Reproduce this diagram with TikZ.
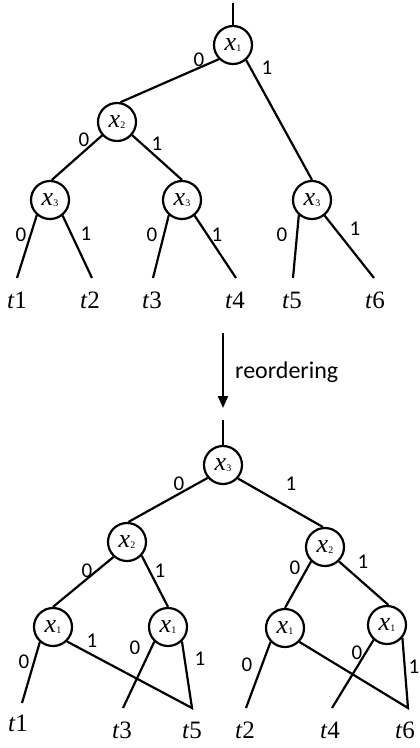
\documentclass[tikz,border=0pt]{standalone}
\usepackage{fontspec}
\setmainfont{Liberation Serif}
\newfontfamily\lblfont{Carlito}
\usetikzlibrary{arrows.meta}
\newcommand{\xv}[1]{\textit{x}\raisebox{-1.5pt}{\fontsize{10}{10}\selectfont #1}}
\newcommand{\tl}[1]{\textit{t}#1}
\begin{document}
\begin{tikzpicture}[x=1pt,y=-1pt,
  vnode/.style={circle,draw,line width=2.2pt,minimum size=38pt,inner sep=0pt,font=\fontsize{26}{26}\selectfont},
  edge/.style={line width=2.2pt},
  bit/.style={font=\lblfont\fontsize{21}{21}\selectfont,inner sep=0pt},
  leaf/.style={font=\fontsize{25}{25}\selectfont,inner sep=0pt}]
\useasboundingbox (0,0) rectangle (420,748);
% ---------- top tree ----------
\coordinate (r1) at (233,3);
\node[vnode] (x1) at (233,45) {\xv{1}};
\node[vnode] (x2) at (117,122) {\xv{2}};
\node[vnode] (a3) at (50,200) {\xv{3}};
\node[vnode] (b3) at (182,200) {\xv{3}};
\node[vnode] (c3) at (312,200) {\xv{3}};
\coordinate (e1) at (17,278);
\coordinate (e2) at (92,278);
\coordinate (e3) at (153,278);
\coordinate (e4) at (236,278);
\coordinate (e5) at (293,278);
\coordinate (e6) at (374,278);
\draw[edge] (r1) -- (x1.north);
\draw[edge] (x1.225) -- (x2.80);
\draw[edge] (x1.311) -- (c3.90);
\draw[edge] (x2.222) -- (a3.85);
\draw[edge] (x2.319) -- (b3.90);
\draw[edge] (a3.229) -- (e1);
\draw[edge] (a3.309) -- (e2);
\draw[edge] (b3.229) -- (e3);
\draw[edge] (b3.309) -- (e4);
\draw[edge] (c3.229) -- (e5);
\draw[edge] (c3.309) -- (e6);
\node[bit] (l1) at (199,60) {0};
\node[bit] (l2) at (267,68) {1};
\node[bit] (l3) at (84,140) {0};
\node[bit] (l4) at (157,144) {1};
\node[bit] (l5) at (21,235) {0};
\node[bit] (l6) at (86,234) {1};
\node[bit] (l7) at (152,235) {0};
\node[bit] (l8) at (217,235) {1};
\node[bit] (l9) at (282,235) {0};
\node[bit] (l10) at (355,229) {1};
\node[leaf] (t1a) at (17,300) {\tl{1}};
\node[leaf] (t2a) at (90,300) {\tl{2}};
\node[leaf] (t3a) at (152,300) {\tl{3}};
\node[leaf] (t4a) at (235,300) {\tl{4}};
\node[leaf] (t5a) at (292,300) {\tl{5}};
\node[leaf] (t6a) at (375,300) {\tl{6}};
% ---------- arrow ----------
\coordinate (as) at (223,333);
\coordinate (ae) at (223,408);
\draw[edge,-{Triangle[width=10pt,length=12pt]}] (as) -- (ae);
\node[anchor=west,inner sep=0pt,font=\lblfont\fontsize{24}{24}\selectfont] (re) at (235,372) {reordering};
% ---------- bottom tree ----------
\coordinate (r2) at (223,420);
\node[vnode] (y3) at (223,465) {\xv{3}};
\node[vnode] (p2) at (127,542) {\xv{2}};
\node[vnode] (q2) at (325,547) {\xv{2}};
\node[vnode] (u1) at (53,627) {\xv{1}};
\node[vnode] (v1) at (168,627) {\xv{1}};
\node[vnode] (w1) at (285,628) {\xv{1}};
\node[vnode] (z1) at (387,625) {\xv{1}};
\coordinate (f1) at (22,703);
\coordinate (f3) at (123,708);
\coordinate (f5) at (192,708);
\coordinate (f2) at (246,708);
\coordinate (f4) at (332,708);
\coordinate (f6) at (408,708);
\draw[edge] (r2) -- (y3.north);
\draw[edge] (y3.220) -- (p2.86);
\draw[edge] (y3.318) -- (q2.96);
\draw[edge] (p2.228) -- (u1.90);
\draw[edge] (p2.317) -- (v1.90);
\draw[edge] (q2.226) -- (w1.90);
\draw[edge] (q2.314) -- (z1.86);
\draw[edge] (u1.229) -- (f1);
\draw[edge] (v1.227) -- (f3);
\draw[edge] (u1.314) -- (f5) -- (v1.314);
\draw[edge] (w1.224) -- (f2);
\draw[edge] (z1.228) -- (f4);
\draw[edge] (w1.316) -- (f6) -- (z1.320);
\node[bit] (m1) at (179,484) {0};
\node[bit] (m2) at (291,484) {1};
\node[bit] (m3) at (87,571) {0};
\node[bit] (m4) at (160,571) {1};
\node[bit] (m5) at (295,568) {0};
\node[bit] (m6) at (363,562) {1};
\node[bit] (m7) at (24,662) {0};
\node[bit] (m8) at (92,641) {1};
\node[bit] (m9) at (135,648) {0};
\node[bit] (m10) at (200,659) {1};
\node[bit] (m11) at (247,665) {0};
\node[bit] (m12) at (357,653) {0};
\node[bit] (m13) at (414,667) {1};
\node[leaf] (t1b) at (18,723) {\tl{1}};
\node[leaf] (t3b) at (122,730) {\tl{3}};
\node[leaf] (t5b) at (192,730) {\tl{5}};
\node[leaf] (t2b) at (245,730) {\tl{2}};
\node[leaf] (t4b) at (330,730) {\tl{4}};
\node[leaf] (t6b) at (405,730) {\tl{6}};
\end{tikzpicture}
\end{document}
